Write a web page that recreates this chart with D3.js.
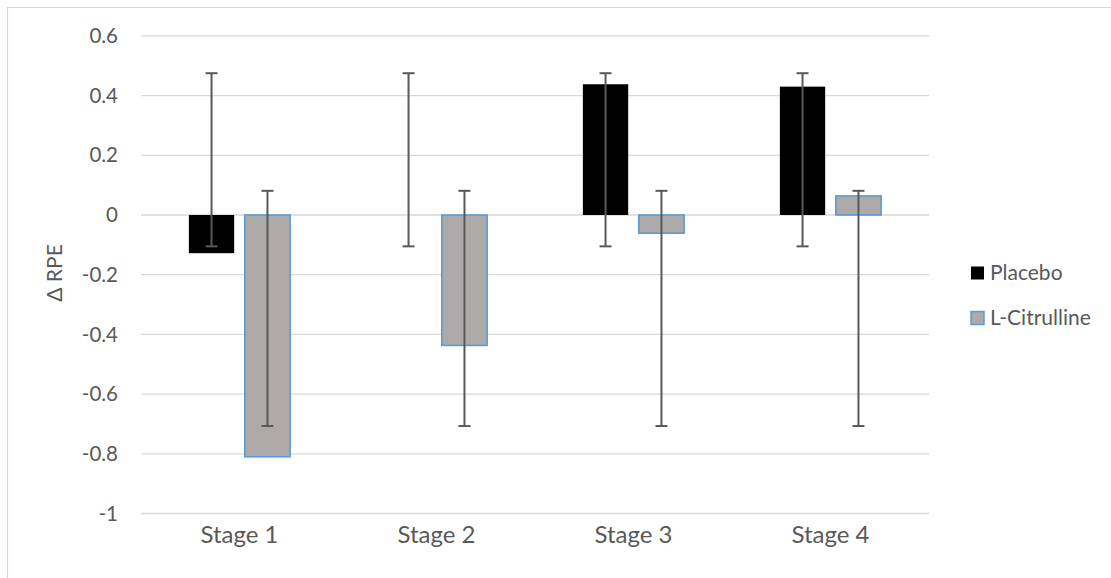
<!DOCTYPE html>
<html>
<head>
<meta charset="utf-8">
<script src="https://cdn.jsdelivr.net/npm/d3@7"></script>
<style>
  html, body { margin: 0; padding: 0; background: #fff; }
  svg { display: block; }
  text { font-family: Lato, "Open Sans", "Noto Sans", sans-serif; fill: #595959; }
</style>
</head>
<body>
<script>
// Stages along the x axis
const stages = ["Stage 1", "Stage 2", "Stage 3", "Stage 4"];
const seriesNames = ["Placebo", "L-Citrulline"];

// Mean change in RPE per stage
const placebo = [-0.128, 0, 0.438, 0.43];
const citrulline = [-0.81, -0.437, -0.061, 0.064];

// Error bar ends (lower, upper) per stage
const placeboErrLow = [-0.105, -0.105, -0.105, -0.105];
const placeboErrHigh = [0.475, 0.475, 0.475, 0.475];
const citrullineErrLow = [-0.707, -0.707, -0.707, -0.707];
const citrullineErrHigh = [0.081, 0.081, 0.081, 0.081];

// Y axis ticks and their labels
const yTicks = [0.6, 0.4, 0.2, 0, -0.2, -0.4, -0.6, -0.8, -1];
const yTickLabels = ["0.6", "0.4", "0.2", "0", "-0.2", "-0.4", "-0.6", "-0.8", "-1"];

const W = 1111, H = 578;
const plot = { left: 141, right: 929, top: 35.9, bottom: 513.5 };

const svg = d3.select("body").append("svg")
  .attr("width", W).attr("height", H);

// Chart frame (top and left edges visible)
svg.append("line").attr("x1", 7).attr("x2", W).attr("y1", 7.5).attr("y2", 7.5)
  .attr("stroke", "#d9d9d9").attr("stroke-width", 1.2);
svg.append("line").attr("x1", 7.5).attr("x2", 7.5).attr("y1", 7).attr("y2", H)
  .attr("stroke", "#d9d9d9").attr("stroke-width", 1.2);

const x = d3.scaleBand().domain(stages).range([plot.left, plot.right]).padding(0);
const y = d3.scaleLinear().domain([-1, 0.6]).range([plot.bottom, plot.top]);

// Inner positioning of the two series within a stage
const bw = x.bandwidth();
const barW = bw * 0.23;
const gap = bw * 0.054;
const offset = d3.scaleOrdinal().domain(seriesNames)
  .range([-(gap / 2 + barW), gap / 2]);

// Gridlines
svg.append("g").selectAll("line").data(yTicks).join("line")
  .attr("x1", plot.left).attr("x2", plot.right)
  .attr("y1", d => y(d)).attr("y2", d => y(d))
  .attr("stroke", "#d9d9d9").attr("stroke-width", 1.3);

// Y tick labels
svg.append("g").selectAll("text").data(yTicks).join("text")
  .attr("x", 118).attr("y", d => y(d))
  .attr("dy", "0.35em")
  .attr("text-anchor", "end")
  .style("font-size", "20.5px")
  .text((d, i) => yTickLabels[i]);

// X category labels
svg.append("g").selectAll("text").data(stages).join("text")
  .attr("x", d => x(d) + bw / 2)
  .attr("y", 543)
  .attr("text-anchor", "middle")
  .style("font-size", "24px")
  .text(d => d);

// Y axis title
svg.append("text")
  .attr("transform", "translate(62,273) rotate(-90)")
  .attr("text-anchor", "middle")
  .style("font-size", "21px")
  .text("Δ RPE");

const series = [
  { name: "Placebo", values: placebo, lo: placeboErrLow, hi: placeboErrHigh,
    fill: "#000000", stroke: "none" },
  { name: "L-Citrulline", values: citrulline, lo: citrullineErrLow, hi: citrullineErrHigh,
    fill: "#aeaaaa", stroke: "#5b9bd5" }
];

// Bars
series.forEach(s => {
  const g = svg.append("g");
  g.selectAll("rect").data(stages.map((st, i) => ({ st, v: s.values[i] })))
    .join("rect")
    .filter(d => d.v !== 0)
    .attr("x", d => x(d.st) + bw / 2 + offset(s.name))
    .attr("width", barW)
    .attr("y", d => Math.min(y(d.v), y(0)))
    .attr("height", d => Math.abs(y(d.v) - y(0)))
    .attr("fill", s.fill)
    .attr("stroke", s.stroke)
    .attr("stroke-width", s.stroke === "none" ? 0 : 1.6);
});

// Error bars
const capW = 12;
series.forEach(s => {
  const g = svg.append("g").attr("stroke", "#595959").attr("stroke-width", 2).attr("fill", "none");
  stages.forEach((st, i) => {
    const cx = x(st) + bw / 2 + offset(s.name) + barW / 2;
    g.append("line").attr("x1", cx).attr("x2", cx)
      .attr("y1", y(s.lo[i])).attr("y2", y(s.hi[i]));
    [s.lo[i], s.hi[i]].forEach(v => {
      g.append("line").attr("x1", cx - capW / 2).attr("x2", cx + capW / 2)
        .attr("y1", y(v)).attr("y2", y(v));
    });
  });
});

// Legend
const legend = svg.append("g");
series.forEach((s, i) => {
  const cy = 273 + i * 45;
  legend.append("rect")
    .attr("x", 971).attr("y", cy - 6.5)
    .attr("width", 13).attr("height", 13)
    .attr("fill", s.fill)
    .attr("stroke", s.stroke)
    .attr("stroke-width", s.stroke === "none" ? 0 : 1.5);
  legend.append("text")
    .attr("x", 990).attr("y", cy)
    .attr("dy", "0.35em")
    .style("font-size", "21px")
    .text(s.name);
});
</script>
</body>
</html>
